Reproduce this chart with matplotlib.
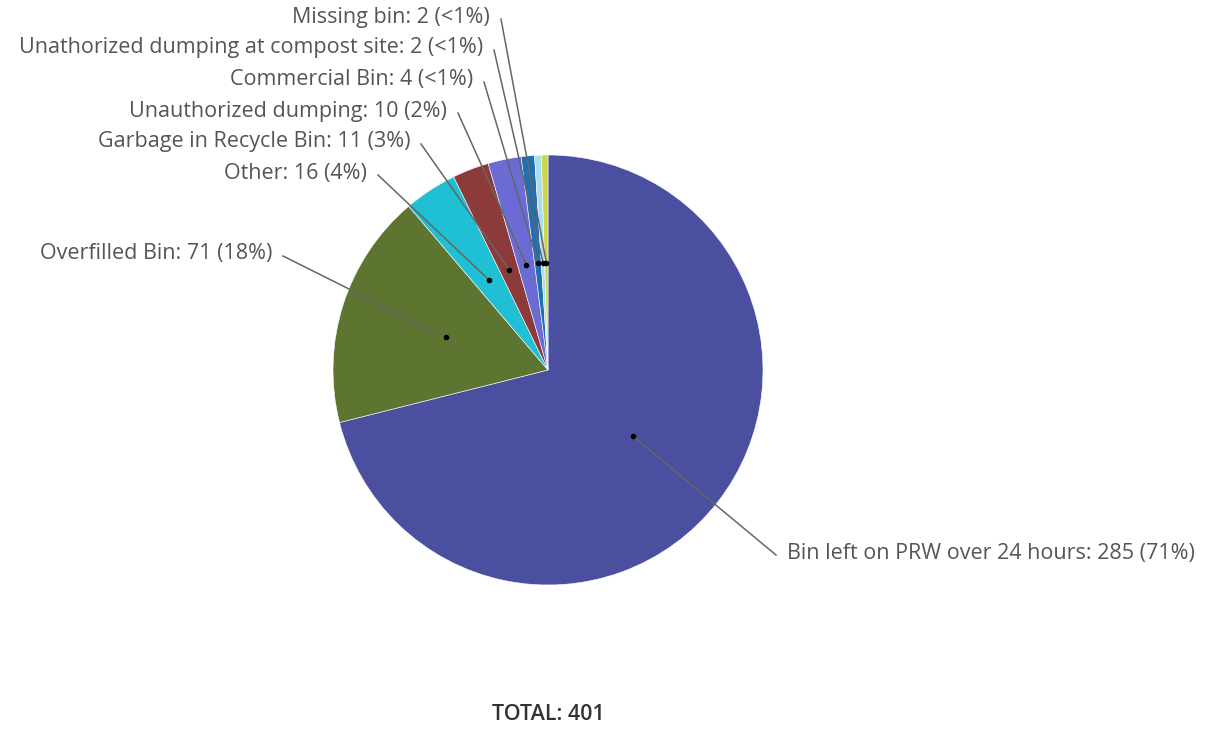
import numpy as np
import matplotlib.pyplot as plt

labels = ["Bin left on PRW over 24 hours", "Overfilled Bin", "Other",
          "Garbage in Recycle Bin", "Unauthorized dumping", "Commercial Bin",
          "Unathorized dumping at compost site", "Missing bin"]
counts = [285, 71, 16, 11, 10, 4, 2, 2]
pct_text = ["71%", "18%", "4%", "3%", "2%", "<1%", "<1%", "<1%"]
colors = ["#4b4fa0", "#5e7532", "#1fc0d3", "#8c3a3a", "#6b6bd6", "#1f6fb5", "#a9dcec", "#c9d84a"]

# label anchor (pixel coords: text edge x, y) and alignment
label_pos = [(787, 553, "left"), (272, 254, "right"), (367, 173, "right"),
             (410, 142, "right"), (447, 111, "right"), (473, 80, "right"),
             (483, 48, "right"), (490, 17, "right")]

W, H = 1219, 754
fig = plt.figure(figsize=(W / 100, H / 100), dpi=100)
ax = fig.add_axes([0, 0, 1, 1])

cx, cy, R = 548, H - 370, 215
wedges, _ = ax.pie(counts, colors=colors, startangle=90, counterclock=False,
                   center=(cx, cy), radius=R, frame=True,
                   wedgeprops=dict(edgecolor="white", linewidth=0.4))
ax.set_xlim(0, W)
ax.set_ylim(0, H)
ax.set_aspect("equal")
ax.axis("off")

font = ["Open Sans", "DejaVu Sans"]
for w, lab, c, p, (tx, ty, ha) in zip(wedges, labels, counts, pct_text, label_pos):
    mid = np.deg2rad((w.theta1 + w.theta2) / 2)
    px = cx + 0.5 * R * np.cos(mid)
    py = cy + 0.5 * R * np.sin(mid)
    ty = H - ty
    ax.text(tx, ty, f"{lab}: {c} ({p})", ha=ha, va="center", fontsize=15.5,
            color="#555555", family=font)
    lx = tx + 11 if ha == "right" else tx - 11
    ax.plot([lx, px], [ty - 2, py], color="#666666", lw=1.1)
    ax.plot(px, py, "o", color="black", ms=3)

ax.text(cx, H - 715, f"TOTAL: {sum(counts)}", ha="center", va="center",
        fontsize=15.5, color="#333333", family=font, fontweight="semibold")

fig.savefig("out.png", dpi=100, facecolor="white")
